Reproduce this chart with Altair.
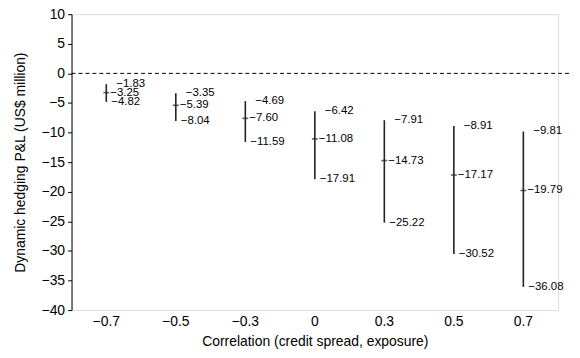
import altair as alt
import pandas as pd

cats = ["−0.7", "−0.5", "−0.3", "0", "0.3", "0.5", "0.7"]
upper = [-1.83, -3.35, -4.69, -6.42, -7.91, -8.91, -9.81]
mean = [-3.25, -5.39, -7.60, -11.08, -14.73, -17.17, -19.79]
lower = [-4.82, -8.04, -11.59, -17.91, -25.22, -30.52, -36.08]
yticks = [10, 5, 0, -5, -10, -15, -20, -25, -30, -35, -40]

df = pd.DataFrame({"corr": cats, "upper": upper, "mean": mean, "lower": lower})

FONT = "Liberation Sans"

xaxis = alt.Axis(
    title="Correlation (credit spread, exposure)",
    labelAngle=0,
    domain=False,
    ticks=False,
    labelPadding=5,
    titlePadding=6,
    labelFontSize=14,
    titleFontSize=14,
    titleFontWeight="normal",
    labelColor="black",
    titleColor="black",
    labelFont=FONT,
    titleFont=FONT,
    grid=False,
)
x = alt.X("corr:N", sort=cats, scale=alt.Scale(paddingInner=0, paddingOuter=0), axis=xaxis)

yscale = alt.Scale(domain=[-40, 10], nice=False, zero=False)
yaxis = alt.Axis(
    title="Dynamic hedging P&L (US$ million)",
    values=yticks,
    domainColor="black",
    tickColor="black",
    tickSize=4,
    labelPadding=3,
    labelFontSize=14,
    titleFontSize=14,
    titleFontWeight="normal",
    titlePadding=14,
    labelColor="black",
    titleColor="black",
    labelFont=FONT,
    titleFont=FONT,
    labelOverlap=False,
    grid=False,
)


def Y(field):
    return alt.Y(f"{field}:Q", scale=yscale, axis=yaxis)


base = alt.Chart(df)

zero = alt.Chart(pd.DataFrame({"v": [0]})).mark_rule(
    color="black", strokeDash=[4, 3], strokeWidth=1
).encode(y=alt.Y("v:Q", scale=yscale, axis=yaxis), x=alt.value(0), x2=alt.value(503))

bars = base.mark_rule(color="#222", strokeWidth=1.6).encode(x=x, y=Y("lower"), y2="upper:Q")

ticks = base.mark_tick(orient="horizontal", color="#222", size=6, thickness=1.6).encode(
    x=x, y=Y("mean")
)


def lbl(field, dx):
    return base.mark_text(
        align="left", baseline="middle", dx=dx, fontSize=11.5, font=FONT, color="black"
    ).encode(
        x=x,
        y=Y(field),
        text=alt.Text(f"{field}:Q", format=".2f"),
    )


chart = (
    alt.layer(zero, bars, ticks, lbl("upper", 10), lbl("mean", 4), lbl("lower", 5))
    .properties(
        width=490,
        height=298,
        autosize=alt.AutoSizeParams(type="none"),
        padding={"left": 64, "top": 5, "right": 14, "bottom": 47},
    )
    .configure_view(stroke=None)
    .configure(background="white")
)

chart.save("out.html", embed_options={"renderer": "svg", "actions": False})
